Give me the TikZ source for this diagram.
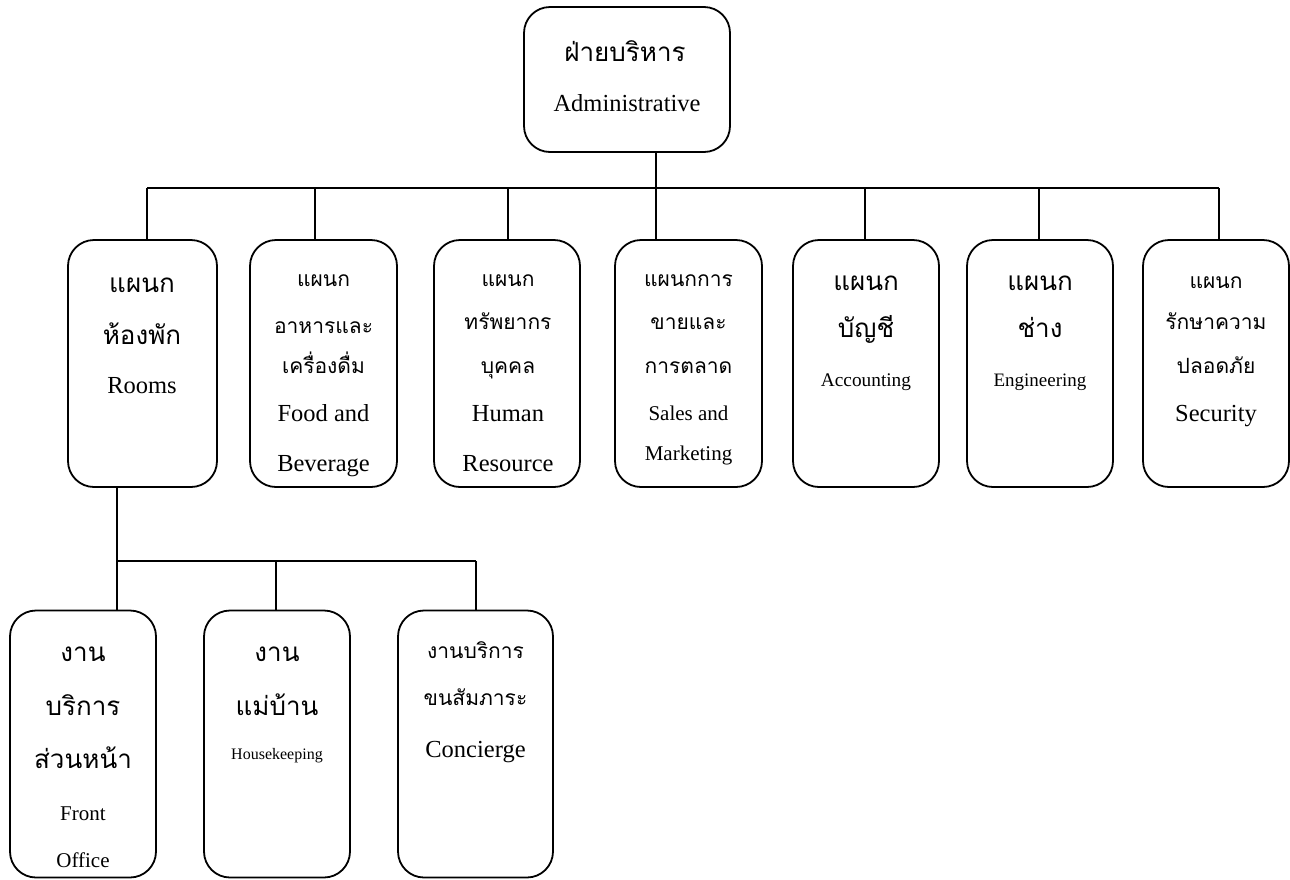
\documentclass[tikz,border=0pt]{standalone}
\usepackage{fontspec}
\setmainfont{Liberation Serif}
\newfontfamily\thaifont[Script=Thai]{Loma}
\newfontfamily\enfont{Liberation Serif}
\usetikzlibrary{calc}

\begin{document}
\begin{tikzpicture}[x=1pt,y=-1pt,
  line width=1.8pt,
  unit/.style={draw, rounded corners=26pt, inner sep=0pt},
  link/.style={line width=1.8pt},
  th/.style={anchor=base, inner sep=0pt, font=\thaifont\fontsize{#1}{#1}\selectfont},
  en/.style={anchor=base, inner sep=0pt, font=\enfont\fontsize{#1}{#1}\selectfont}]
\useasboundingbox (0,0) rectangle (1290,879);

% ---------- boxes ----------
\node[unit, minimum width=206pt, minimum height=145pt] (adm) at (627,79.5) {};

\node[unit, minimum width=149pt, minimum height=247pt] (rooms) at (142.5,363.5) {};
\node[unit, minimum width=147pt, minimum height=247pt] (fb)    at (323.5,363.5) {};
\node[unit, minimum width=146pt, minimum height=247pt] (hr)    at (507,363.5) {};
\node[unit, minimum width=147pt, minimum height=247pt] (sm)    at (688.5,363.5) {};
\node[unit, minimum width=146pt, minimum height=247pt] (acc)   at (866,363.5) {};
\node[unit, minimum width=146pt, minimum height=247pt] (eng)   at (1040,363.5) {};
\node[unit, minimum width=146pt, minimum height=247pt] (sec)   at (1216,363.5) {};

\node[unit, minimum width=146pt, minimum height=267pt] (fo)  at (83,744) {};
\node[unit, minimum width=146pt, minimum height=267pt] (hk)  at (277,744) {};
\node[unit, minimum width=155pt, minimum height=267pt] (con) at (475.5,744) {};

% ---------- connectors ----------
\coordinate (hub) at (656,188);
\coordinate (busL) at (147,188);
\coordinate (busR) at (1219,188);
\draw[link] (adm.south -| hub) -- (hub);
\draw[link] (busL) -- (busR);
\draw[link] (busL) -- (rooms.north -| busL);
\draw[link] (315,188) -- (fb.north -| 315,0);
\draw[link] (508,188) -- (hr.north -| 508,0);
\draw[link] (hub) -- (sm.north -| hub);
\draw[link] (865,188) -- (acc.north -| 865,0);
\draw[link] (1039,188) -- (eng.north -| 1039,0);
\draw[link] (busR) -- (sec.north -| busR);

\coordinate (sub) at (117,561);
\coordinate (subR) at (476,561);
\draw[link] (rooms.south -| sub) -- (sub);
\draw[link] (sub) -- (subR);
\draw[link] (sub) -- (fo.north -| sub);
\draw[link] (276,561) -- (hk.north -| 276,0);
\draw[link] (subR) -- (con.north -| subR);

% ---------- labels ----------
\def\TB{26}
\def\TS{21}
\node[th=\TB] (adm-th) at (625,61) {ฝ่ายบริหาร};
\node[en=24.5] (adm-en) at (627,111) {Administrative};

\node[th=\TB] (rooms-1) at (142,292) {แผนก};
\node[th=\TB] (rooms-2) at (142,344) {ห้องพัก};
\node[en=24.5] (rooms-3) at (142,393) {Rooms};

\node[th=\TS] (fb-1) at (323.5,286) {แผนก};
\node[th=\TS] (fb-2) at (323.5,333) {อาหารและ};
\node[th=\TS] (fb-3) at (323.5,373) {เครื่องดื่ม};
\node[en=24.5] (fb-4) at (323.5,421) {Food and};
\node[en=24.5] (fb-5) at (323.5,471) {Beverage};

\node[th=\TS] (hr-1) at (508,286) {แผนก};
\node[th=\TS] (hr-2) at (508,329) {ทรัพยากร};
\node[th=\TS] (hr-3) at (508,373) {บุคคล};
\node[en=24.5] (hr-4) at (508,421) {Human};
\node[en=24.5] (hr-5) at (508,471) {Resource};

\node[th=\TS] (sm-1) at (688.5,286) {แผนกการ};
\node[th=\TS] (sm-2) at (688.5,329) {ขายและ};
\node[th=\TS] (sm-3) at (688.5,373) {การตลาด};
\node[en=21] (sm-4) at (688.5,420) {Sales and};
\node[en=21] (sm-5) at (688.5,460) {Marketing};

\node[th=\TB] (acc-1) at (866,290) {แผนก};
\node[th=\TB] (acc-2) at (866,337) {บัญชี};
\node[en=19.3] (acc-3) at (866,386.5) {Accounting};

\node[th=\TB] (eng-1) at (1040,290) {แผนก};
\node[th=\TB] (eng-2) at (1040,337) {ช่าง};
\node[en=19] (eng-3) at (1040,386.5) {Engineering};

\node[th=\TS] (sec-1) at (1216,288) {แผนก};
\node[th=\TS] (sec-2) at (1216,329) {รักษาความ};
\node[th=\TS] (sec-3) at (1216,373) {ปลอดภัย};
\node[en=24.5] (sec-4) at (1216,421) {Security};

\node[th=\TB] (fo-1) at (83,661) {งาน};
\node[th=\TB] (fo-2) at (83,715) {บริการ};
\node[th=\TB] (fo-3) at (83,768) {ส่วนหน้า};
\node[en=21] (fo-4) at (83,820) {Front};
\node[en=21] (fo-5) at (83,867) {Office};

\node[th=\TB] (hk-1) at (277,661) {งาน};
\node[th=\TB] (hk-2) at (277,715) {แม่บ้าน};
\node[en=16] (hk-3) at (277,759.5) {Housekeeping};

\node[th=\TS] (con-1) at (475.5,658) {งานบริการ};
\node[th=\TS] (con-2) at (475.5,705) {ขนสัมภาระ};
\node[en=24.5] (con-3) at (475.5,757) {Concierge};
\end{tikzpicture}
\end{document}
